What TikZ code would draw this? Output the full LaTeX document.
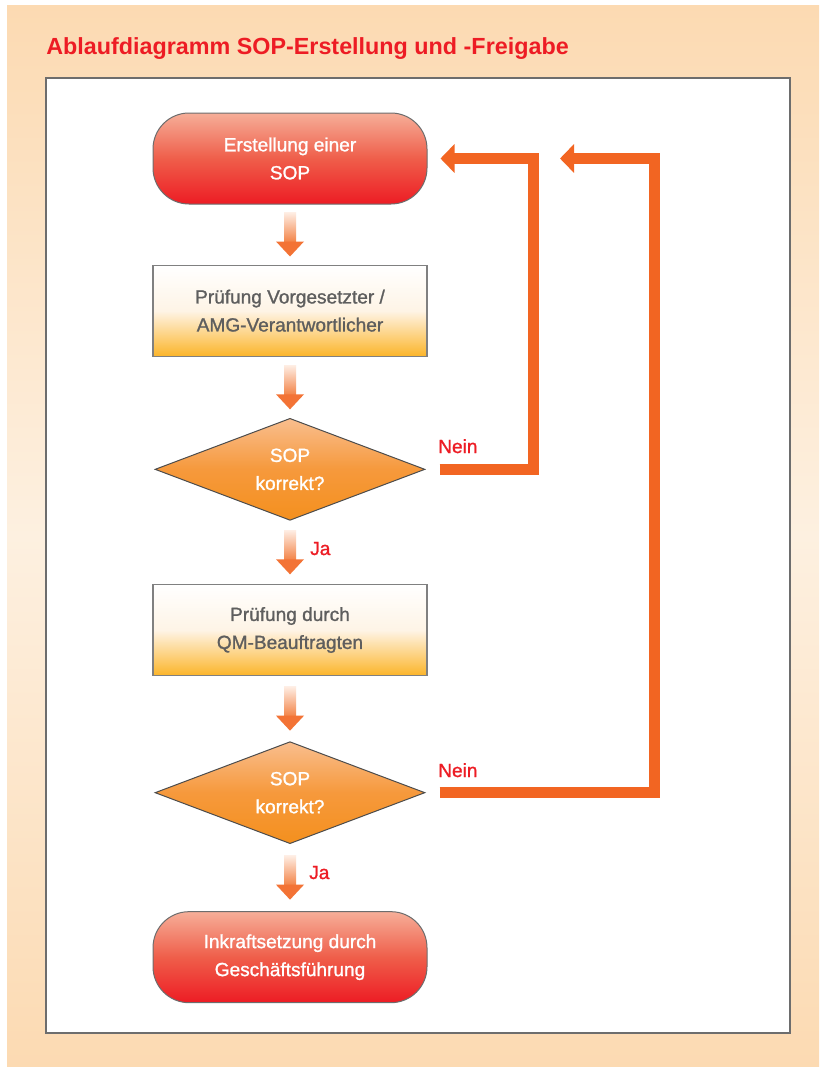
\documentclass[tikz,border=0pt]{standalone}
\usepackage{fontspec}
\setmainfont{Liberation Sans}
\newfontfamily\flowfam{Liberation Sans}[FakeBold=1.2]
\usepackage{xcolor}
\usetikzlibrary{shapes.geometric, arrows.meta, positioning, calc}

\definecolor{sopred}{HTML}{ED1C24}
\definecolor{termtop}{HTML}{F6AE98}
\definecolor{termmid}{HTML}{EF5E4A}
\definecolor{boxyellow}{HTML}{FCB52A}
\definecolor{boxcream}{HTML}{FEF4E6}
\definecolor{dtop}{HTML}{F9BE8E}
\definecolor{dmid}{HTML}{F6993C}
\definecolor{dbottom}{HTML}{F4901E}
\definecolor{loopcol}{HTML}{F26522}
\definecolor{headcol}{HTML}{F37335}
\definecolor{shafttop}{HTML}{FEEDE3}
\definecolor{shaftbot}{HTML}{F38448}
\definecolor{bgpeach}{HTML}{FCDAB2}
\definecolor{bglight}{HTML}{FDF0E0}
\definecolor{framegray}{HTML}{6D6D6D}
\definecolor{txtgray}{HTML}{5E5E5E}

\newcommand{\flowfont}{\flowfam\fontsize{14.3}{21}\selectfont}

\tikzset{
    term/.style={draw=framegray, line width=0.75pt, rounded corners=27pt, top color=termtop, bottom color=sopred, middle color=termmid, minimum width=205.5pt, minimum height=68.25pt, align=center, text=white, font=\flowfont},
    procbox/.style={draw=gray, line width=1pt, top color=white, bottom color=boxyellow, middle color=boxcream, minimum width=205.5pt, minimum height=68.25pt, align=center, text=txtgray, font=\flowfont},
    decision/.style={diamond, aspect=2.65, draw=black!70, line width=0.75pt, top color=dtop, bottom color=dbottom, middle color=dmid, minimum width=202.5pt, minimum height=76.5pt, inner sep=0pt, align=center, text=white, font=\flowfont},
    answer/.style={text=sopred, font=\flowfont, anchor=base west, inner sep=0pt},
    loopline/.style={draw=loopcol, line width=8.25pt, line join=miter, -{Triangle[width=21pt, length=10.5pt]}}
}

% shaded arrow between two stacked nodes
\newcommand{\flowarrow}[2]{%
    \coordinate (m) at ($(#1.south)!.5!(#2.north)$);
    \shade[top color=shafttop, bottom color=shaftbot] ([xshift=-4.5pt, yshift=16.5pt]m) rectangle ([xshift=4.5pt, yshift=-5.5pt]m);
    \fill[headcol] ([yshift=-16.5pt]m) -- ([xshift=-10.5pt, yshift=-5.25pt]m) -- ([xshift=10.5pt, yshift=-5.25pt]m) -- cycle;
}

\begin{document}
\begin{tikzpicture}[x=0.75pt, y=-0.75pt]
    \useasboundingbox (0,0) rectangle (819,1067);
    \fill[white] (0,0) rectangle (819,1067);
    \shade[top color=bgpeach, bottom color=bgpeach, middle color=bglight] (7,5) rectangle (819,1067);
    \draw[framegray, line width=1.5pt, fill=white] (46,78) rectangle (790,1033);

    \node[text=sopred, font=\bfseries\fontsize{17.5}{21}\selectfont, anchor=base west, inner sep=0pt] (title) at (46,54.3) {Ablaufdiagramm SOP-Erstellung und -Freigabe};

    % main column
    \node[term] (start) at (290,158.5) {Erstellung einer\\SOP};
    \node[procbox, below=45pt of start] (pruef1) {Prüfung Vorgesetzter /\\AMG-Verantwortlicher};
    \node[decision, below=45.75pt of pruef1] (check1) {SOP\\korrekt?};
    \node[procbox, below=47.25pt of check1] (pruef2) {Prüfung durch\\QM-Beauftragten};
    \node[decision, below=48.75pt of pruef2] (check2) {SOP\\korrekt?};
    \node[term, below=50.25pt of check2] (release) {Inkraftsetzung durch\\Geschäftsführung};

    \flowarrow{start}{pruef1}
    \flowarrow{pruef1}{check1}
    \flowarrow{check1}{pruef2}
    \flowarrow{pruef2}{check2}
    \flowarrow{check2}{release}

    % labels
    \node[answer] (nein1) at (438,453) {Nein};
    \node[answer] (nein2) at (438,777) {Nein};
    \node[answer] (ja1) at (310,555) {Ja};
    \node[answer] (ja2) at (309,879) {Ja};

    % back loops
    \coordinate (c1) at (533.5,158.5);
    \coordinate (c2) at (654.5,158.5);
    \coordinate (in2) at (560,158.5);
    \draw[loopline, shorten <=10.5pt, shorten >=9.75pt] (check1.east) -| (c1) -- (start.east);
    \draw[loopline, shorten <=10.5pt] (check2.east) -| (c2) -- (in2);
\end{tikzpicture}
\end{document}
